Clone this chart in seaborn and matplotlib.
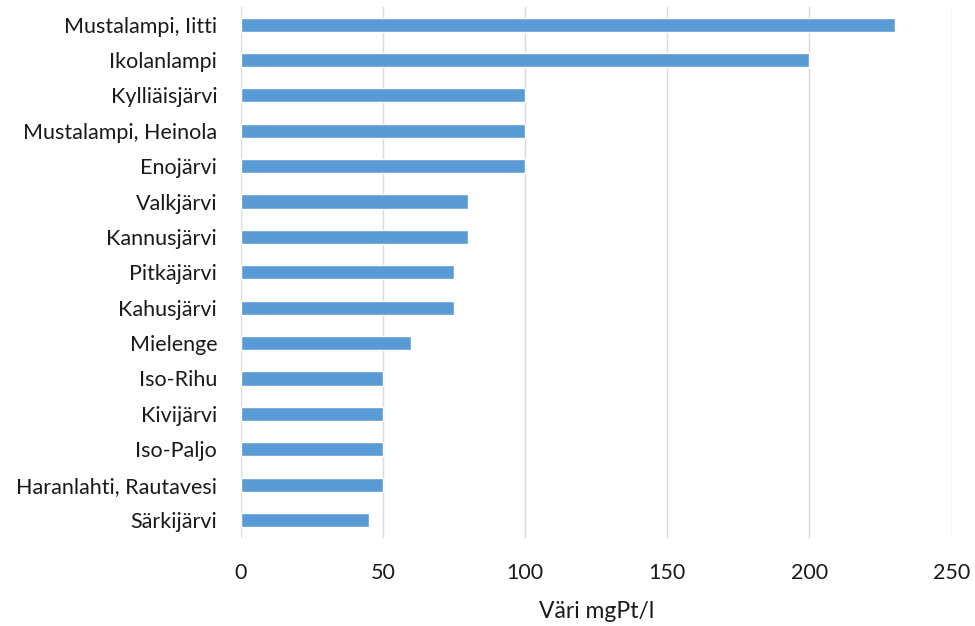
import pandas as pd
import seaborn as sns
import matplotlib.pyplot as plt

lakes = ["Mustalampi, Iitti", "Ikolanlampi", "Kylliäisjärvi", "Mustalampi, Heinola",
         "Enojärvi", "Valkjärvi", "Kannusjärvi", "Pitkäjärvi", "Kahusjärvi",
         "Mielenge", "Iso-Rihu", "Kivijärvi", "Iso-Paljo", "Haranlahti, Rautavesi",
         "Särkijärvi"]
color_values = [230, 200, 100, 100, 100, 80, 80, 75, 75, 60, 50, 50, 50, 50, 45]
x_ticks = [0, 50, 100, 150, 200, 250]

df = pd.DataFrame({"lake": lakes, "vari": color_values})

sns.set_style("white")
plt.rcParams['font.family'] = ['Lato', 'DejaVu Sans']

fig = plt.figure(figsize=(9.75, 6.26), dpi=100)
ax = fig.add_axes([0.247, 0.141, 0.729, 0.848])
sns.barplot(data=df, x="vari", y="lake", color="#5B9BD5", saturation=1,
            width=0.4, ax=ax)

ax.set_xlim(0, 250)
ax.set_xticks(x_ticks)
ax.grid(axis='x', color='#d9d9d9', linewidth=1)
ax.set_axisbelow(True)
for s in ax.spines.values():
    s.set_visible(False)
ax.tick_params(axis='both', length=0, labelsize=15.5, colors='#1a1a1a')
ax.tick_params(axis='x', pad=18)
ax.tick_params(axis='y', pad=17)
ax.set_ylabel("")
ax.set_xlabel("Väri mgPt/l", fontsize=16.5, color='#1a1a1a', labelpad=13)

fig.savefig("out.png", dpi=100)
